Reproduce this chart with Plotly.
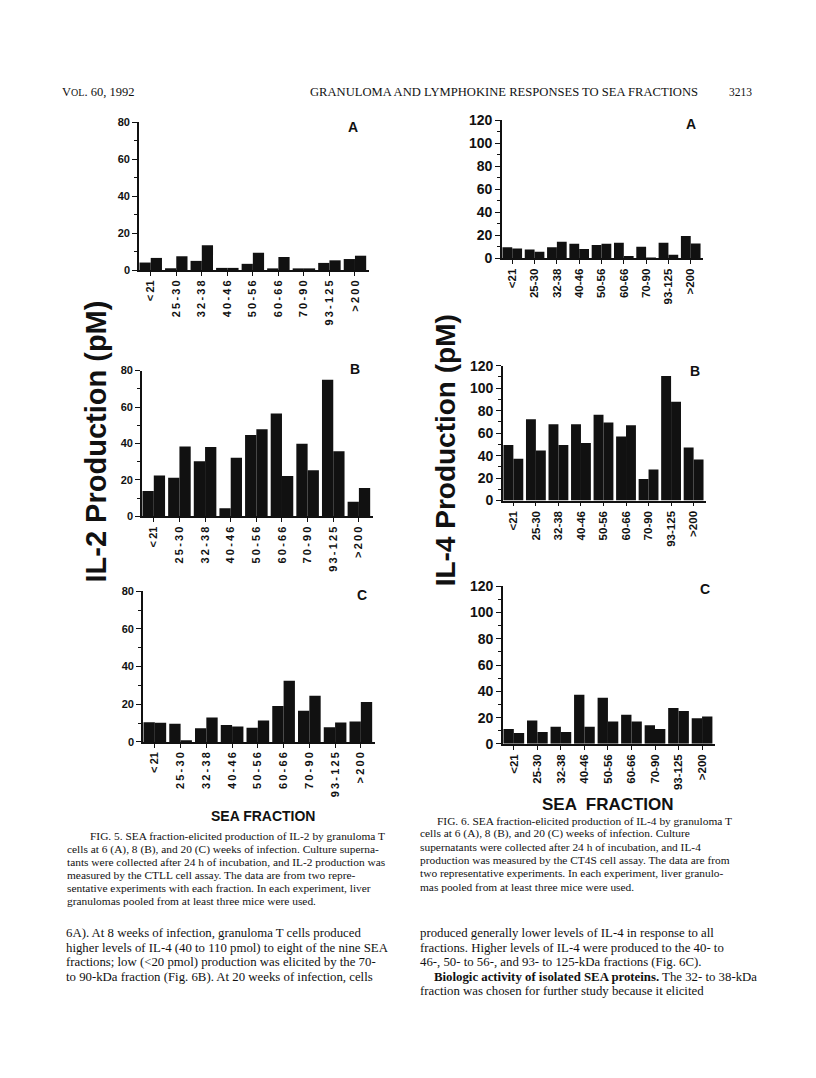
import plotly.graph_objects as go

# ---------------- data ----------------
categories = ["<21", "25-30", "32-38", "40-46", "50-56", "60-66", "70-90", "93-125", ">200"]
tick_labels = ["&lt;21", "25-30", "32-38", "40-46", "50-56", "60-66", "70-90", "93-125", "&gt;200"]
# Fig. 5 prints the same labels with wide letter spacing
tick_labels_spaced = ["&lt;\u200921", "2\u20095\u2009-\u20093\u20090", "3\u20092\u2009-\u20093\u20098",
                      "4\u20090\u2009-\u20094\u20096", "5\u20090\u2009-\u20095\u20096", "6\u20090\u2009-\u20096\u20096",
                      "7\u20090\u2009-\u20099\u20090", "9\u20093\u2009-\u20091\u20092\u20095", "&gt;\u20092\u20090\u20090"]

# Fig. 5 IL-2 production (pM), two experiments per fraction
il2_A_exp1 = [4.1, 1.0, 5.0, 1.2, 3.4, 0.6, 0.6, 3.9, 6.0]
il2_A_exp2 = [6.6, 7.5, 13.4, 1.2, 9.4, 7.1, 0.6, 5.3, 7.8]
il2_B_exp1 = [13.9, 21.2, 30.2, 4.5, 44.7, 56.5, 39.8, 74.9, 8.0]
il2_B_exp2 = [22.4, 38.4, 38.0, 32.2, 47.8, 22.1, 25.3, 35.7, 15.6]
il2_C_exp1 = [10.4, 9.6, 7.3, 9.0, 7.5, 19.1, 16.5, 7.8, 10.8]
il2_C_exp2 = [10.1, 0.9, 13.0, 8.2, 11.3, 32.5, 24.5, 10.3, 21.2]

# Fig. 6 IL-4 production (pM), two experiments per fraction
il4_A_exp1 = [9.5, 7.7, 9.7, 12.6, 11.5, 13.5, 10.0, 13.5, 19.5]
il4_A_exp2 = [8.6, 5.7, 14.3, 8.0, 12.6, 2.0, 0.5, 3.0, 12.9]
il4_B_exp1 = [49.5, 72.3, 67.9, 67.9, 76.4, 57.1, 19.2, 110.8, 47.3]
il4_B_exp2 = [37.3, 44.6, 49.5, 51.3, 69.4, 67.0, 27.7, 88.0, 36.5]
il4_C_exp1 = [11.3, 17.8, 13.0, 37.4, 35.2, 22.1, 14.1, 27.4, 19.6]
il4_C_exp2 = [8.3, 9.0, 9.0, 13.0, 17.1, 17.1, 11.3, 25.1, 20.9]

# ---------------- layout helpers ----------------
# page body has an 8px margin: keep the figure inside the 816x1078 window
OFF = 8
W, H = 816 - 2 * OFF, 1078 - 2 * OFF
def fx(px):
    return (px - OFF) / W
def fy(py):
    return 1 - (py - OFF) / H

SANS = "Liberation Sans"
SERIF = "Liberation Serif"
INK = "#111111"

# (exp1, exp2, left px, right px, y0 px, ytop px, ymax, letter, letter x, letter y, ytick size, xtick size, labels)
panels = [
    (il2_A_exp1, il2_A_exp2, 139, 369, 266, 116, 80, "A", 353, 121, 11, 11, tick_labels_spaced),
    (il2_B_exp1, il2_B_exp2, 142, 373, 516, 368, 80, "B", 355, 366, 11, 11, tick_labels_spaced),
    (il2_C_exp1, il2_C_exp2, 143, 375, 745, 592, 80, "C", 362, 596, 11, 11, tick_labels_spaced),
    (il4_A_exp1, il4_A_exp2, 502, 703, 254, 114, 120, "A", 691, 118, 14, 11.5, tick_labels),
    (il4_B_exp1, il4_B_exp2, 503, 706, 500, 363, 120, "B", 695, 368, 14, 11.5, tick_labels),
    (il4_C_exp1, il4_C_exp2, 503, 715, 747, 587, 120, "C", 705, 590, 14, 11.5, tick_labels),
]

fig = go.Figure()
layout = dict(
    width=W, height=H,
    margin=dict(l=0, r=0, t=0, b=0),
    paper_bgcolor="white", plot_bgcolor="rgba(0,0,0,0)",
    showlegend=False,
    barmode="group", bargap=0.12, bargroupgap=0.0,
    font=dict(family=SANS, color=INK),
)
annotations = []
xpos = list(range(len(categories)))

for i, (e1, e2, lpx, rpx, y0, ytop, ymax, letter, lx, ly, yts, xts, labels) in enumerate(panels, start=1):
    xa = "x" if i == 1 else f"x{i}"
    ya = "y" if i == 1 else f"y{i}"
    for vals in (e1, e2):
        fig.add_trace(go.Bar(x=xpos, y=vals, xaxis=xa, yaxis=ya,
                             marker=dict(color=INK, line=dict(width=0)),
                             hoverinfo="skip"))
    xkey = "xaxis" if i == 1 else f"xaxis{i}"
    ykey = "yaxis" if i == 1 else f"yaxis{i}"
    layout[xkey] = dict(
        domain=[fx(lpx), fx(rpx)], anchor=ya, range=[-0.46, 8.55],
        tickmode="array", tickvals=xpos, ticktext=labels, tickangle=-90,
        ticks="outside", ticklen=4, tickwidth=1.3, tickcolor=INK,
        showline=True, linecolor=INK, linewidth=1.6,
        showgrid=False, zeroline=False, fixedrange=True,
        tickfont=dict(family=SANS, size=xts, color=INK, weight="bold"),
    )
    layout[ykey] = dict(
        domain=[fy(y0), fy(ytop)], anchor=xa, range=[0, ymax],
        tickmode="linear", tick0=0, dtick=20,
        ticks="outside", ticklen=5, tickwidth=1.3, tickcolor=INK,
        minor=dict(dtick=10, ticks="outside", ticklen=3, tickcolor=INK, tickwidth=1),
        showline=True, linecolor=INK, linewidth=1.6,
        showgrid=False, zeroline=False, fixedrange=True,
        tickfont=dict(family=SANS, size=yts, color=INK, weight="bold"),
    )
    annotations.append(dict(text=letter, x=fx(lx), y=fy(ly), xref="paper", yref="paper",
                            showarrow=False, xanchor="center", yanchor="middle",
                            font=dict(family=SANS, size=14, color=INK, weight="bold")))

# axis titles
annotations.append(dict(text="IL-2 Production (pM)", x=fx(96), y=fy(440), xref="paper", yref="paper",
                        showarrow=False, textangle=-90, xanchor="center", yanchor="middle",
                        font=dict(family=SANS, size=29, color=INK, weight="bold")))
annotations.append(dict(text="IL-4 Production (pM)", x=fx(445), y=fy(449), xref="paper", yref="paper",
                        showarrow=False, textangle=-90, xanchor="center", yanchor="middle",
                        font=dict(family=SANS, size=28, color=INK, weight="bold")))
annotations.append(dict(text="SEA FRACTION", x=fx(263), y=fy(820), xref="paper", yref="paper",
                        showarrow=False, xanchor="center", yanchor="middle",
                        font=dict(family=SANS, size=14, color=INK, weight="bold")))
annotations.append(dict(text="SEA  FRACTION", x=fx(608), y=fy(809), xref="paper", yref="paper",
                        showarrow=False, xanchor="center", yanchor="middle",
                        font=dict(family=SANS, size=17, color=INK, weight="bold")))

def txt(s, x, y, size=11.5, anchor="left", family=SERIF):
    annotations.append(dict(text=s, x=fx(x - 2), y=fy(y), xref="paper", yref="paper",
                            showarrow=False, xanchor=anchor, yanchor="middle",
                            font=dict(family=family, size=size, color=INK)))

# page header
txt("V<span style='font-size:10px'>OL</span>. 60, 1992", 62, 85, 12.5)
txt("GRANULOMA AND LYMPHOKINE RESPONSES TO SEA FRACTIONS", 310, 85, 12.6)
txt("3213", 729, 85, 11.5)

cap5 = [
    "FIG. 5. SEA fraction-elicited production of IL-2 by granuloma T",
    "cells at 6 (A), 8 (B), and 20 (C) weeks of infection. Culture superna-",
    "tants were collected after 24 h of incubation, and IL-2 production was",
    "measured by the CTLL cell assay. The data are from two repre-",
    "sentative experiments with each fraction. In each experiment, liver",
    "granulomas pooled from at least three mice were used.",
]
for k, line in enumerate(cap5):
    txt(line, 90 if k == 0 else 67, 841 + 13.2 * k, 11.4)

cap6 = [
    "FIG. 6. SEA fraction-elicited production of IL-4 by granuloma T",
    "cells at 6 (A), 8 (B), and 20 (C) weeks of infection. Culture",
    "supernatants were collected after 24 h of incubation, and IL-4",
    "production was measured by the CT4S cell assay. The data are from",
    "two representative experiments. In each experiment, liver granulo-",
    "mas pooled from at least three mice were used.",
]
for k, line in enumerate(cap6):
    txt(line, 437 if k == 0 else 420, 825 + 13.4 * k, 11.4)

body_left = [
    "6A). At 8 weeks of infection, granuloma T cells produced",
    "higher levels of IL-4 (40 to 110 pmol) to eight of the nine SEA",
    "fractions; low (&lt;20 pmol) production was elicited by the 70-",
    "to 90-kDa fraction (Fig. 6B). At 20 weeks of infection, cells",
]
for k, line in enumerate(body_left):
    txt(line, 66, 939 + 14.8 * k, 12.8)

body_right = [
    "produced generally lower levels of IL-4 in response to all",
    "fractions. Higher levels of IL-4 were produced to the 40- to",
    "46-, 50- to 56-, and 93- to 125-kDa fractions (Fig. 6C).",
    "<b>Biologic activity of isolated SEA proteins.</b> The 32- to 38-kDa",
    "fraction was chosen for further study because it elicited",
]
for k, line in enumerate(body_right):
    txt(line, 434 if k == 3 else 420, 939 + 14.8 * k, 12.8)

layout["annotations"] = annotations
fig.update_layout(**layout)
fig.write_html("out.html")
